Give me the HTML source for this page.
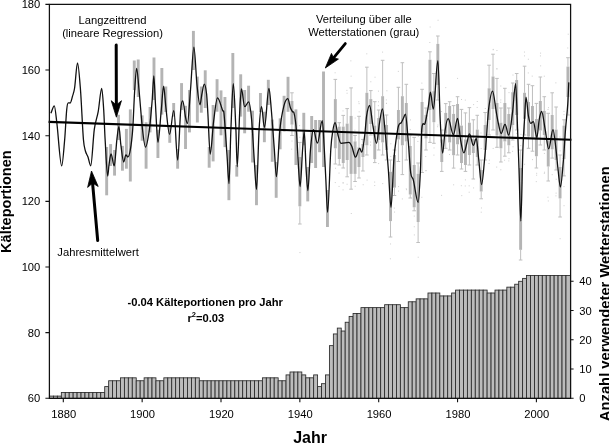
<!DOCTYPE html>
<html lang="de"><head><meta charset="utf-8"><title>Kälteportionen</title><style>html,body{margin:0;padding:0;background:#fff}svg{display:block}</style></head><body>
<svg width="609" height="443" viewBox="0 0 609 443" font-family="'Liberation Sans', Arial, sans-serif">
<rect width="609" height="443" fill="#fff"/>
<g fill="#cfcfcf"><rect x="291.19" y="148.66" width="1" height="1"/><rect x="291.51" y="140.54" width="1" height="1"/><rect x="299.3" y="136.75" width="1" height="1"/><rect x="299.09" y="125.12" width="1" height="1"/><rect x="299.43" y="252.08" width="1" height="1"/><rect x="334.77" y="182.08" width="1" height="1"/><rect x="335.05" y="167.76" width="1" height="1"/><rect x="334.6" y="72.29" width="1" height="1"/><rect x="338.54" y="185.91" width="1" height="1"/><rect x="338.53" y="172.57" width="1" height="1"/><rect x="342.54" y="110.41" width="1" height="1"/><rect x="342.61" y="182.04" width="1" height="1"/><rect x="342.6" y="182.74" width="1" height="1"/><rect x="342.56" y="189.37" width="1" height="1"/><rect x="346.57" y="92.72" width="1" height="1"/><rect x="346.4" y="89.88" width="1" height="1"/><rect x="346.57" y="183.75" width="1" height="1"/><rect x="350.35" y="60.35" width="1" height="1"/><rect x="350.79" y="213.01" width="1" height="1"/><rect x="350.6" y="75.65" width="1" height="1"/><rect x="354.41" y="129.66" width="1" height="1"/><rect x="354.68" y="185.75" width="1" height="1"/><rect x="354.65" y="117.55" width="1" height="1"/><rect x="358.59" y="103.16" width="1" height="1"/><rect x="358.29" y="101.26" width="1" height="1"/><rect x="358.65" y="111.33" width="1" height="1"/><rect x="362.68" y="184.24" width="1" height="1"/><rect x="362.37" y="131.74" width="1" height="1"/><rect x="366.59" y="179.62" width="1" height="1"/><rect x="366.29" y="53.32" width="1" height="1"/><rect x="370.12" y="141.57" width="1" height="1"/><rect x="370.31" y="81.27" width="1" height="1"/><rect x="370.02" y="144.59" width="1" height="1"/><rect x="374.15" y="181.56" width="1" height="1"/><rect x="374.53" y="76.72" width="1" height="1"/><rect x="374.23" y="185.07" width="1" height="1"/><rect x="378.14" y="163.09" width="1" height="1"/><rect x="377.94" y="90.64" width="1" height="1"/><rect x="378" y="101.28" width="1" height="1"/><rect x="377.9" y="105.19" width="1" height="1"/><rect x="382.21" y="183.12" width="1" height="1"/><rect x="382.07" y="51.6" width="1" height="1"/><rect x="386" y="102.82" width="1" height="1"/><rect x="386.38" y="90.28" width="1" height="1"/><rect x="385.84" y="99.4" width="1" height="1"/><rect x="385.94" y="102.93" width="1" height="1"/><rect x="390.3" y="155.92" width="1" height="1"/><rect x="390.05" y="243.46" width="1" height="1"/><rect x="390.31" y="143.3" width="1" height="1"/><rect x="389.88" y="258.3" width="1" height="1"/><rect x="393.8" y="207.6" width="1" height="1"/><rect x="394.05" y="211.57" width="1" height="1"/><rect x="398.12" y="190.59" width="1" height="1"/><rect x="398.06" y="186.09" width="1" height="1"/><rect x="397.83" y="70.86" width="1" height="1"/><rect x="401.84" y="198.43" width="1" height="1"/><rect x="405.77" y="188.33" width="1" height="1"/><rect x="406.07" y="189.18" width="1" height="1"/><rect x="409.72" y="128.95" width="1" height="1"/><rect x="410.03" y="119.43" width="1" height="1"/><rect x="413.77" y="226.25" width="1" height="1"/><rect x="413.78" y="215.59" width="1" height="1"/><rect x="413.83" y="234.42" width="1" height="1"/><rect x="417.71" y="256.72" width="1" height="1"/><rect x="417.76" y="135.85" width="1" height="1"/><rect x="417.38" y="140.92" width="1" height="1"/><rect x="421.36" y="82.62" width="1" height="1"/><rect x="421.36" y="196.78" width="1" height="1"/><rect x="425.42" y="170.25" width="1" height="1"/><rect x="425.22" y="156.04" width="1" height="1"/><rect x="425.53" y="170.04" width="1" height="1"/><rect x="429.65" y="26.51" width="1" height="1"/><rect x="429.33" y="42" width="1" height="1"/><rect x="433.42" y="154.6" width="1" height="1"/><rect x="433.54" y="147.44" width="1" height="1"/><rect x="437.35" y="124.51" width="1" height="1"/><rect x="437.12" y="126.21" width="1" height="1"/><rect x="437.56" y="19.74" width="1" height="1"/><rect x="441.07" y="194.85" width="1" height="1"/><rect x="441.05" y="111.02" width="1" height="1"/><rect x="445.26" y="87.14" width="1" height="1"/><rect x="448.98" y="154.03" width="1" height="1"/><rect x="453.14" y="184.31" width="1" height="1"/><rect x="457.05" y="77.89" width="1" height="1"/><rect x="461" y="98.97" width="1" height="1"/><rect x="460.84" y="185.21" width="1" height="1"/><rect x="461.25" y="195.15" width="1" height="1"/><rect x="464.9" y="179.37" width="1" height="1"/><rect x="464.82" y="99.59" width="1" height="1"/><rect x="464.76" y="185.47" width="1" height="1"/><rect x="468.67" y="191.72" width="1" height="1"/><rect x="468.66" y="185.33" width="1" height="1"/><rect x="473.09" y="187.43" width="1" height="1"/><rect x="473.11" y="104.12" width="1" height="1"/><rect x="476.77" y="101.01" width="1" height="1"/><rect x="476.65" y="106.91" width="1" height="1"/><rect x="480.68" y="148.05" width="1" height="1"/><rect x="480.72" y="211.68" width="1" height="1"/><rect x="480.47" y="132.48" width="1" height="1"/><rect x="480.93" y="207.47" width="1" height="1"/><rect x="484.81" y="108.01" width="1" height="1"/><rect x="488.8" y="159.63" width="1" height="1"/><rect x="488.53" y="163.04" width="1" height="1"/><rect x="492.65" y="147.91" width="1" height="1"/><rect x="492.65" y="49.26" width="1" height="1"/><rect x="492.8" y="48.89" width="1" height="1"/><rect x="496.54" y="68.39" width="1" height="1"/><rect x="496.25" y="68.29" width="1" height="1"/><rect x="496.43" y="50.04" width="1" height="1"/><rect x="496.2" y="166.59" width="1" height="1"/><rect x="500.21" y="101.76" width="1" height="1"/><rect x="500.3" y="99.46" width="1" height="1"/><rect x="500.29" y="85.51" width="1" height="1"/><rect x="500.33" y="169.3" width="1" height="1"/><rect x="504.07" y="159.7" width="1" height="1"/><rect x="508.29" y="160.42" width="1" height="1"/><rect x="508.49" y="158.17" width="1" height="1"/><rect x="508.5" y="92.12" width="1" height="1"/><rect x="512.07" y="150.81" width="1" height="1"/><rect x="512.47" y="74.53" width="1" height="1"/><rect x="512.54" y="146.27" width="1" height="1"/><rect x="516.26" y="132.88" width="1" height="1"/><rect x="520.23" y="145.11" width="1" height="1"/><rect x="520.41" y="133.85" width="1" height="1"/><rect x="524.05" y="55.37" width="1" height="1"/><rect x="523.93" y="51.55" width="1" height="1"/><rect x="524.1" y="163.76" width="1" height="1"/><rect x="527.85" y="58.74" width="1" height="1"/><rect x="527.77" y="72.42" width="1" height="1"/><rect x="531.96" y="159.13" width="1" height="1"/><rect x="531.71" y="75.6" width="1" height="1"/><rect x="535.78" y="181.14" width="1" height="1"/><rect x="536.17" y="172.78" width="1" height="1"/><rect x="536.14" y="174.69" width="1" height="1"/><rect x="540.13" y="65.35" width="1" height="1"/><rect x="539.93" y="55.4" width="1" height="1"/><rect x="540.08" y="52.62" width="1" height="1"/><rect x="543.79" y="75.67" width="1" height="1"/><rect x="543.83" y="172.83" width="1" height="1"/><rect x="543.9" y="152.93" width="1" height="1"/><rect x="544.06" y="171.7" width="1" height="1"/><rect x="547.51" y="109.02" width="1" height="1"/><rect x="547.93" y="107.18" width="1" height="1"/><rect x="547.8" y="200.45" width="1" height="1"/><rect x="547.43" y="196.71" width="1" height="1"/><rect x="551.69" y="174.18" width="1" height="1"/><rect x="555.6" y="192.63" width="1" height="1"/><rect x="555.45" y="195.35" width="1" height="1"/><rect x="555.7" y="178.73" width="1" height="1"/><rect x="555.36" y="82.36" width="1" height="1"/><rect x="559.63" y="150.33" width="1" height="1"/><rect x="559.45" y="136.51" width="1" height="1"/><rect x="559.63" y="238.21" width="1" height="1"/><rect x="559.55" y="139.44" width="1" height="1"/><rect x="563.49" y="110.86" width="1" height="1"/><rect x="563.48" y="186.11" width="1" height="1"/><rect x="563.53" y="205.22" width="1" height="1"/><rect x="563.48" y="114.15" width="1" height="1"/><rect x="567.72" y="33.7" width="1" height="1"/><rect x="567.27" y="47.48" width="1" height="1"/></g>
<path d="M291.96 92.8V101M290.16 92.8H293.76M291.96 124.6V135.5M290.16 135.5H293.76M299.85 142.4V157M298.05 142.4H301.65M299.85 206.3V224M298.05 224H301.65M335.33 79.4V99.1M333.53 79.4H337.13M335.33 148.3V164M333.53 164H337.13M339.27 122.7V126.6M337.47 122.7H341.07M339.27 159V165M337.47 165H341.07M343.22 115.4V126.6M341.42 115.4H345.02M343.22 163V168M341.42 168H345.02M347.16 108.6V123.6M345.36 108.6H348.96M347.16 160V176.8M345.36 176.8H348.96M351.1 87.9V115.9M349.3 87.9H352.9M351.1 173.9V189.2M349.3 189.2H352.9M355.05 135.5V141.4M353.25 135.5H356.85M355.05 173.9V181.5M353.25 181.5H356.85M358.99 116.3V147.3M357.19 116.3H360.79M358.99 167V178M357.19 178H360.79M362.93 139.4V144M361.13 139.4H364.73M362.93 157V171M361.13 171H364.73M366.87 67.2V92.8M365.07 67.2H368.67M366.87 145.3V155M365.07 155H368.67M370.81 90.6V99.1M369.01 90.6H372.62M370.81 124V135M369.01 135H372.62M374.76 101.7V125.6M372.96 101.7H376.56M374.76 159.1V162.6M372.96 162.6H376.56M378.7 110V118M376.9 110H380.5M378.7 140V150M376.9 150H380.5M382.64 60.3V96.2M380.84 60.3H384.44M382.64 142.4V155M380.84 155H384.44M386.58 115V125M384.78 115H388.38M386.58 150V160M384.78 160H388.38M390.53 160V171.8M388.73 160H392.33M390.53 221.1V237M388.73 237H392.33M394.47 150V155M392.67 150H396.27M394.47 187.6V195.5M392.67 195.5H396.27M398.41 87.3V110M396.61 87.3H400.21M398.41 139.4V161.5M396.61 161.5H400.21M402.36 62.7V96.2M400.56 62.7H404.16M402.36 145.3V174.6M400.56 174.6H404.16M406.3 84.3V103M404.5 84.3H408.1M406.3 141.4V160M404.5 160H408.1M410.24 135V146M408.44 135H412.04M410.24 194.5V198M408.44 198H412.04M414.18 137.4V165M412.38 137.4H415.98M414.18 207.3V210.8M412.38 210.8H415.98M418.12 163V173.8M416.32 163H419.93M418.12 222V242.5M416.32 242.5H419.93M422.07 89.3V102M420.27 89.3H423.87M422.07 132.5V172.5M420.27 172.5H423.87M426.01 108V114.9M424.21 108H427.81M426.01 138.4V150M424.21 150H427.81M429.95 51.8V59.7M428.15 51.8H431.75M429.95 110V142.4M428.15 142.4H431.75M433.89 73.5V91.2M432.09 73.5H435.69M433.89 122.2V143.3M432.09 143.3H435.69M437.84 36V43.9M436.04 36H439.64M437.84 85V100M436.04 100H439.64M441.78 130V139.4M439.98 130H443.58M441.78 162V171.4M439.98 171.4H443.58M445.72 103.6V112.9M443.92 103.6H447.52M445.72 133.5V148.3M443.92 148.3H447.52M449.67 101.7V106M447.87 101.7H451.47M449.67 142.4V150M447.87 150H451.47M453.61 105.6V113.9M451.81 105.6H455.41M453.61 155.2V168.1M451.81 168.1H455.41M457.55 96.7V104M455.75 96.7H459.35M457.55 144.3V155M455.75 155H459.35M461.49 109.4V125.6M459.69 109.4H463.29M461.49 163V169M459.69 169H463.29M465.44 112.9V139.4M463.63 112.9H467.24M465.44 165V171.4M463.63 171.4H467.24M469.38 107.6V122.7M467.58 107.6H471.18M469.38 155V165M467.58 165H471.18M473.32 119.8V139M471.52 119.8H475.12M473.32 153V179M471.52 179H475.12M477.26 115.3V129.6M475.46 115.3H479.06M477.26 157V165M475.46 165H479.06M481.2 160V170M479.4 160H483M481.2 191.5V198.8M479.4 198.8H483M485.15 112.5V125M483.35 112.5H486.95M485.15 150V160M483.35 160H486.95M489.09 65.2V88.3M487.29 65.2H490.89M489.09 120V135M487.29 135H490.89M493.03 54.2V76.5M491.23 54.2H494.83M493.03 109V130M491.23 130H494.83M496.98 78.4V103M495.18 78.4H498.78M496.98 135.5V147.3M495.18 147.3H498.78M500.92 108V122.7M499.12 108H502.72M500.92 148.3V162M499.12 162H502.72M504.86 88.3V103M503.06 88.3H506.66M504.86 141.4V156.2M503.06 156.2H506.66M508.8 108V114M507 108H510.6M508.8 145.3V152.8M507 152.8H510.6M512.75 83V92.2M510.94 83H514.54M512.75 125V140M510.94 140H514.54M516.69 73.5V80M514.89 73.5H518.49M516.69 115V130M514.89 130H518.49M520.63 150V168M518.83 150H522.43M520.63 249.8V260M518.83 260H522.43M524.57 66.2V92.8M522.77 66.2H526.37M524.57 118.8V135M522.77 135H526.37M528.51 84.3V102M526.72 84.3H530.31M528.51 136.5V148.3M526.72 148.3H530.31M532.46 85.7V106M530.66 85.7H534.26M532.46 137.4V151.2M530.66 151.2H534.26M536.4 103.4V119M534.6 103.4H538.2M536.4 156.2V168M534.6 168H538.2M540.34 77V101M538.54 77H542.14M540.34 130.5V145M538.54 145H542.14M544.28 96.7V110.9M542.49 96.7H546.08M544.28 135V150M542.49 150H546.08M548.23 113.3V140.4M546.43 113.3H550.03M548.23 166.5V181M546.43 181H550.03M552.17 92.8V115M550.37 92.8H553.97M552.17 149.3V158.1M550.37 158.1H553.97M556.11 107V129.6M554.31 107H557.91M556.11 160V170M554.31 170H557.91M560.05 155V167M558.25 155H561.85M560.05 198.4V217M558.25 217H561.85M564 119.8V125.6M562.2 119.8H565.8M564 159V175.9M562.2 175.9H565.8M567.94 57.7V66.6M566.14 57.7H569.74M567.94 97V115M566.14 115H569.74" stroke="#bfbfbf" stroke-width="1" fill="none"/>
<g fill="#b4b4b4"><rect x="105.22" y="147" width="2.9" height="48.3"/><rect x="109.16" y="144.1" width="2.9" height="21.9"/><rect x="113.1" y="150" width="2.9" height="25.6"/><rect x="117.05" y="114.8" width="2.9" height="25.2"/><rect x="120.99" y="145.9" width="2.9" height="24.8"/><rect x="124.93" y="128.9" width="2.9" height="39.8"/><rect x="128.87" y="109.4" width="2.9" height="72.1"/><rect x="132.81" y="60.5" width="2.9" height="29.5"/><rect x="136.76" y="59.5" width="2.9" height="37.5"/><rect x="140.7" y="115.4" width="2.9" height="25.3"/><rect x="144.64" y="122.3" width="2.9" height="46.4"/><rect x="148.59" y="107" width="2.9" height="25.4"/><rect x="152.53" y="57.5" width="2.9" height="42.5"/><rect x="156.47" y="129.7" width="2.9" height="28.3"/><rect x="160.41" y="68" width="2.9" height="46.6"/><rect x="164.36" y="86.5" width="2.9" height="25.5"/><rect x="168.3" y="125" width="2.9" height="17.8"/><rect x="172.24" y="103" width="2.9" height="13.6"/><rect x="176.18" y="149" width="2.9" height="19.7"/><rect x="180.12" y="83.1" width="2.9" height="26.9"/><rect x="184.07" y="105.8" width="2.9" height="43.2"/><rect x="188.01" y="90" width="2.9" height="42.4"/><rect x="191.95" y="30.9" width="2.9" height="39.1"/><rect x="195.89" y="76.6" width="2.9" height="45.9"/><rect x="199.84" y="86.5" width="2.9" height="26.2"/><rect x="203.78" y="70.3" width="2.9" height="37.7"/><rect x="207.72" y="147" width="2.9" height="20.7"/><rect x="211.67" y="105" width="2.9" height="56.4"/><rect x="215.61" y="79.2" width="2.9" height="32.5"/><rect x="219.55" y="90.4" width="2.9" height="44.9"/><rect x="223.49" y="97" width="2.9" height="50.1"/><rect x="227.44" y="150" width="2.9" height="50.2"/><rect x="231.38" y="53" width="2.9" height="55"/><rect x="235.32" y="165" width="2.9" height="11.6"/><rect x="239.26" y="74.3" width="2.9" height="42.3"/><rect x="243.2" y="90" width="2.9" height="43.3"/><rect x="247.15" y="85.7" width="2.9" height="26"/><rect x="251.09" y="110.7" width="2.9" height="51.8"/><rect x="255.03" y="165" width="2.9" height="40.2"/><rect x="258.98" y="93" width="2.9" height="19"/><rect x="262.92" y="111.7" width="2.9" height="30.5"/><rect x="266.86" y="79.8" width="2.9" height="25.2"/><rect x="270.8" y="119.6" width="2.9" height="42.2"/><rect x="274.75" y="162" width="2.9" height="35.8"/><rect x="278.69" y="118.4" width="2.9" height="30.9"/><rect x="282.63" y="95.8" width="2.9" height="35.7"/><rect x="286.57" y="76.8" width="2.9" height="35"/><rect x="290.51" y="101" width="2.9" height="23.6"/><rect x="294.46" y="109.4" width="2.9" height="55.6"/><rect x="298.4" y="157" width="2.9" height="49.3"/><rect x="302.34" y="112.8" width="2.9" height="32.5"/><rect x="306.29" y="167" width="2.9" height="34.4"/><rect x="310.23" y="116" width="2.9" height="47"/><rect x="314.17" y="120" width="2.9" height="48"/><rect x="318.11" y="120" width="2.9" height="32.2"/><rect x="322.06" y="71.5" width="2.9" height="95.5"/><rect x="326" y="190" width="2.9" height="37"/><rect x="333.88" y="99.1" width="2.9" height="49.2"/><rect x="337.82" y="126.6" width="2.9" height="32.4"/><rect x="341.77" y="126.6" width="2.9" height="36.4"/><rect x="345.71" y="123.6" width="2.9" height="36.4"/><rect x="349.65" y="115.9" width="2.9" height="58"/><rect x="353.6" y="141.4" width="2.9" height="32.5"/><rect x="357.54" y="147.3" width="2.9" height="19.7"/><rect x="361.48" y="144" width="2.9" height="13"/><rect x="365.42" y="92.8" width="2.9" height="52.5"/><rect x="369.37" y="99.1" width="2.9" height="24.9"/><rect x="373.31" y="125.6" width="2.9" height="33.5"/><rect x="377.25" y="118" width="2.9" height="22"/><rect x="381.19" y="96.2" width="2.9" height="46.2"/><rect x="385.13" y="125" width="2.9" height="25"/><rect x="389.08" y="171.8" width="2.9" height="49.3"/><rect x="393.02" y="155" width="2.9" height="32.6"/><rect x="396.96" y="110" width="2.9" height="29.4"/><rect x="400.91" y="96.2" width="2.9" height="49.1"/><rect x="404.85" y="103" width="2.9" height="38.4"/><rect x="408.79" y="146" width="2.9" height="48.5"/><rect x="412.73" y="165" width="2.9" height="42.3"/><rect x="416.68" y="173.8" width="2.9" height="48.2"/><rect x="420.62" y="102" width="2.9" height="30.5"/><rect x="424.56" y="114.9" width="2.9" height="23.5"/><rect x="428.5" y="59.7" width="2.9" height="50.3"/><rect x="432.44" y="91.2" width="2.9" height="31"/><rect x="436.39" y="43.9" width="2.9" height="41.1"/><rect x="440.33" y="139.4" width="2.9" height="22.6"/><rect x="444.27" y="112.9" width="2.9" height="20.6"/><rect x="448.22" y="106" width="2.9" height="36.4"/><rect x="452.16" y="113.9" width="2.9" height="41.3"/><rect x="456.1" y="104" width="2.9" height="40.3"/><rect x="460.04" y="125.6" width="2.9" height="37.4"/><rect x="463.99" y="139.4" width="2.9" height="25.6"/><rect x="467.93" y="122.7" width="2.9" height="32.3"/><rect x="471.87" y="139" width="2.9" height="14"/><rect x="475.81" y="129.6" width="2.9" height="27.4"/><rect x="479.75" y="170" width="2.9" height="21.5"/><rect x="483.7" y="125" width="2.9" height="25"/><rect x="487.64" y="88.3" width="2.9" height="31.7"/><rect x="491.58" y="76.5" width="2.9" height="32.5"/><rect x="495.53" y="103" width="2.9" height="32.5"/><rect x="499.47" y="122.7" width="2.9" height="25.6"/><rect x="503.41" y="103" width="2.9" height="38.4"/><rect x="507.35" y="114" width="2.9" height="31.3"/><rect x="511.3" y="92.2" width="2.9" height="32.8"/><rect x="515.24" y="80" width="2.9" height="35"/><rect x="519.18" y="168" width="2.9" height="81.8"/><rect x="523.12" y="92.8" width="2.9" height="26"/><rect x="527.06" y="102" width="2.9" height="34.5"/><rect x="531.01" y="106" width="2.9" height="31.4"/><rect x="534.95" y="119" width="2.9" height="37.2"/><rect x="538.89" y="101" width="2.9" height="29.5"/><rect x="542.83" y="110.9" width="2.9" height="24.1"/><rect x="546.78" y="140.4" width="2.9" height="26.1"/><rect x="550.72" y="115" width="2.9" height="34.3"/><rect x="554.66" y="129.6" width="2.9" height="30.4"/><rect x="558.6" y="167" width="2.9" height="31.4"/><rect x="562.55" y="125.6" width="2.9" height="33.4"/><rect x="566.49" y="66.6" width="2.9" height="30.4"/></g>
<g fill="#bcbcbc" stroke="#2a2a2a" stroke-width="0.85"><rect x="49.4" y="396.1" width="4.04" height="2.2"/><rect x="53.44" y="396.1" width="3.94" height="2.2"/><rect x="57.39" y="396.1" width="3.94" height="2.2"/><rect x="61.33" y="392.45" width="3.94" height="5.85"/><rect x="65.27" y="392.45" width="3.94" height="5.85"/><rect x="69.21" y="392.45" width="3.94" height="5.85"/><rect x="73.16" y="392.45" width="3.94" height="5.85"/><rect x="77.1" y="392.45" width="3.94" height="5.85"/><rect x="81.04" y="392.45" width="3.94" height="5.85"/><rect x="84.98" y="392.45" width="3.94" height="5.85"/><rect x="88.93" y="392.45" width="3.94" height="5.85"/><rect x="92.87" y="392.45" width="3.94" height="5.85"/><rect x="96.81" y="392.45" width="3.94" height="5.85"/><rect x="100.75" y="392.45" width="3.94" height="5.85"/><rect x="104.7" y="386.6" width="3.94" height="11.7"/><rect x="108.64" y="380.75" width="3.94" height="17.55"/><rect x="112.58" y="380.75" width="3.94" height="17.55"/><rect x="116.52" y="380.75" width="3.94" height="17.55"/><rect x="120.47" y="377.82" width="3.94" height="20.48"/><rect x="124.41" y="377.82" width="3.94" height="20.48"/><rect x="128.35" y="377.82" width="3.94" height="20.48"/><rect x="132.29" y="377.82" width="3.94" height="20.48"/><rect x="136.24" y="380.75" width="3.94" height="17.55"/><rect x="140.18" y="380.75" width="3.94" height="17.55"/><rect x="144.12" y="377.82" width="3.94" height="20.48"/><rect x="148.06" y="377.82" width="3.94" height="20.48"/><rect x="152.01" y="377.82" width="3.94" height="20.48"/><rect x="155.95" y="380.75" width="3.94" height="17.55"/><rect x="159.89" y="380.75" width="3.94" height="17.55"/><rect x="163.83" y="377.82" width="3.94" height="20.48"/><rect x="167.78" y="377.82" width="3.94" height="20.48"/><rect x="171.72" y="377.82" width="3.94" height="20.48"/><rect x="175.66" y="377.82" width="3.94" height="20.48"/><rect x="179.6" y="377.82" width="3.94" height="20.48"/><rect x="183.55" y="377.82" width="3.94" height="20.48"/><rect x="187.49" y="377.82" width="3.94" height="20.48"/><rect x="191.43" y="377.82" width="3.94" height="20.48"/><rect x="195.37" y="377.82" width="3.94" height="20.48"/><rect x="199.32" y="380.75" width="3.94" height="17.55"/><rect x="203.26" y="380.75" width="3.94" height="17.55"/><rect x="207.2" y="380.75" width="3.94" height="17.55"/><rect x="211.14" y="380.75" width="3.94" height="17.55"/><rect x="215.09" y="380.75" width="3.94" height="17.55"/><rect x="219.03" y="380.75" width="3.94" height="17.55"/><rect x="222.97" y="380.75" width="3.94" height="17.55"/><rect x="226.91" y="380.75" width="3.94" height="17.55"/><rect x="230.86" y="380.75" width="3.94" height="17.55"/><rect x="234.8" y="380.75" width="3.94" height="17.55"/><rect x="238.74" y="380.75" width="3.94" height="17.55"/><rect x="242.68" y="380.75" width="3.94" height="17.55"/><rect x="246.63" y="380.75" width="3.94" height="17.55"/><rect x="250.57" y="380.75" width="3.94" height="17.55"/><rect x="254.51" y="380.75" width="3.94" height="17.55"/><rect x="258.45" y="380.75" width="3.94" height="17.55"/><rect x="262.4" y="377.82" width="3.94" height="20.48"/><rect x="266.34" y="377.82" width="3.94" height="20.48"/><rect x="270.28" y="377.82" width="3.94" height="20.48"/><rect x="274.22" y="377.82" width="3.94" height="20.48"/><rect x="278.17" y="380.75" width="3.94" height="17.55"/><rect x="282.11" y="380.75" width="3.94" height="17.55"/><rect x="286.05" y="374.9" width="3.94" height="23.4"/><rect x="289.99" y="371.98" width="3.94" height="26.32"/><rect x="293.94" y="371.98" width="3.94" height="26.32"/><rect x="297.88" y="371.98" width="3.94" height="26.32"/><rect x="301.82" y="374.9" width="3.94" height="23.4"/><rect x="305.76" y="377.82" width="3.94" height="20.48"/><rect x="309.71" y="377.82" width="3.94" height="20.48"/><rect x="313.65" y="374.9" width="3.94" height="23.4"/><rect x="317.59" y="386.6" width="3.94" height="11.7"/><rect x="321.53" y="383.68" width="3.94" height="14.62"/><rect x="325.48" y="374.9" width="3.94" height="23.4"/><rect x="329.42" y="345.65" width="3.94" height="52.65"/><rect x="333.36" y="333.95" width="3.94" height="64.35"/><rect x="337.3" y="328.1" width="3.94" height="70.2"/><rect x="341.25" y="331.03" width="3.94" height="67.27"/><rect x="345.19" y="322.25" width="3.94" height="76.05"/><rect x="349.13" y="316.4" width="3.94" height="81.9"/><rect x="353.07" y="313.48" width="3.94" height="84.82"/><rect x="357.02" y="313.48" width="3.94" height="84.82"/><rect x="360.96" y="307.62" width="3.94" height="90.68"/><rect x="364.9" y="307.62" width="3.94" height="90.68"/><rect x="368.84" y="307.62" width="3.94" height="90.68"/><rect x="372.79" y="307.62" width="3.94" height="90.68"/><rect x="376.73" y="307.62" width="3.94" height="90.68"/><rect x="380.67" y="307.62" width="3.94" height="90.68"/><rect x="384.61" y="304.7" width="3.94" height="93.6"/><rect x="388.56" y="304.7" width="3.94" height="93.6"/><rect x="392.5" y="304.7" width="3.94" height="93.6"/><rect x="396.44" y="304.7" width="3.94" height="93.6"/><rect x="400.38" y="307.62" width="3.94" height="90.68"/><rect x="404.33" y="307.62" width="3.94" height="90.68"/><rect x="408.27" y="301.78" width="3.94" height="96.52"/><rect x="412.21" y="301.78" width="3.94" height="96.52"/><rect x="416.15" y="298.85" width="3.94" height="99.45"/><rect x="420.1" y="298.85" width="3.94" height="99.45"/><rect x="424.04" y="298.85" width="3.94" height="99.45"/><rect x="427.98" y="293" width="3.94" height="105.3"/><rect x="431.92" y="293" width="3.94" height="105.3"/><rect x="435.87" y="293" width="3.94" height="105.3"/><rect x="439.81" y="295.93" width="3.94" height="102.38"/><rect x="443.75" y="295.93" width="3.94" height="102.38"/><rect x="447.69" y="295.93" width="3.94" height="102.38"/><rect x="451.64" y="293" width="3.94" height="105.3"/><rect x="455.58" y="290.08" width="3.94" height="108.22"/><rect x="459.52" y="290.08" width="3.94" height="108.22"/><rect x="463.46" y="290.08" width="3.94" height="108.22"/><rect x="467.41" y="290.08" width="3.94" height="108.22"/><rect x="471.35" y="290.08" width="3.94" height="108.22"/><rect x="475.29" y="290.08" width="3.94" height="108.22"/><rect x="479.23" y="290.08" width="3.94" height="108.22"/><rect x="483.18" y="290.08" width="3.94" height="108.22"/><rect x="487.12" y="293" width="3.94" height="105.3"/><rect x="491.06" y="293" width="3.94" height="105.3"/><rect x="495" y="290.08" width="3.94" height="108.22"/><rect x="498.95" y="290.08" width="3.94" height="108.22"/><rect x="502.89" y="290.08" width="3.94" height="108.22"/><rect x="506.83" y="287.15" width="3.94" height="111.15"/><rect x="510.77" y="287.15" width="3.94" height="111.15"/><rect x="514.72" y="284.23" width="3.94" height="114.07"/><rect x="518.66" y="281.3" width="3.94" height="117"/><rect x="522.6" y="278.38" width="3.94" height="119.93"/><rect x="526.54" y="275.45" width="3.94" height="122.85"/><rect x="530.49" y="275.45" width="3.94" height="122.85"/><rect x="534.43" y="275.45" width="3.94" height="122.85"/><rect x="538.37" y="275.45" width="3.94" height="122.85"/><rect x="542.31" y="275.45" width="3.94" height="122.85"/><rect x="546.26" y="275.45" width="3.94" height="122.85"/><rect x="550.2" y="275.45" width="3.94" height="122.85"/><rect x="554.14" y="275.45" width="3.94" height="122.85"/><rect x="558.08" y="275.45" width="3.94" height="122.85"/><rect x="562.03" y="275.45" width="3.94" height="122.85"/><rect x="565.97" y="275.45" width="4.63" height="122.85"/></g>
<path d="M50.9 113.3C52.03 110.8 53.17 105.8 54.3 105.8C55.13 105.8 55.97 115.73 56.8 122.5C58.43 135.77 60.07 165.9 61.7 165.9C62.7 165.9 63.7 150.54 64.7 139.3C65.37 131.81 66.03 116.46 66.7 109.7C67.23 104.29 67.77 102.8 68.3 102.8C69.02 102.8 69.48 103 70.2 103C71 103 71.8 98.63 72.6 95.9C73.27 93.63 73.93 92.5 74.6 88C75.57 81.47 76.53 62.8 77.5 62.8C78.5 62.8 79.5 77.03 80.5 90C81.47 102.53 82.43 127.27 83.4 139.3C84.07 147.6 84.73 148.43 85.4 151C86.27 154.33 87.13 154.56 88 157C88.9 159.53 89.8 165.9 90.7 165.9C91.9 165.9 93.1 138.07 94.3 129.4C95.6 120.01 96.9 118.9 98.2 111.7C99.37 105.24 100.53 88.4 101.7 88.4C102.37 88.4 103.03 99.72 103.7 109.7C104.17 116.69 104.63 131.57 105.1 139.3C105.97 153.67 106.83 176 107.7 176C108.13 176 108.57 167.79 109 164.9C109.67 160.46 110.33 154 111 154C112.22 154 112.98 165.9 114.2 165.9C115.1 165.9 116 146.84 116.9 139.3C117.57 133.71 118.23 126.5 118.9 126.5C119.57 126.5 120.23 140.27 120.9 145.2C121.83 152.1 122.77 162 123.7 162C124.54 162 125.06 154.8 125.9 154.8C126.62 154.8 127.08 157 127.8 157C128.63 157 129.47 154.69 130.3 150C131.1 145.49 131.9 140.19 132.7 129.4C133.33 120.86 133.97 101.92 134.6 92C135.27 81.56 135.93 68.3 136.6 68.3C137.47 68.3 138.33 83.02 139.2 92C140.3 103.39 141.4 119.78 142.5 129.4C143.5 138.15 144.5 147.1 145.5 147.1C146.8 147.1 148.1 138.54 149.4 129.4C150.33 122.84 151.27 111.37 152.2 100C152.73 93.5 153.27 75.8 153.8 75.8C154.37 75.8 154.93 95.82 155.5 105C156.3 117.96 157.1 142.2 157.9 142.2C159.03 142.2 160.17 120.85 161.3 109.7C162.07 102.15 162.83 86.1 163.6 86.1C164.37 86.1 165.13 101.44 165.9 107.7C167.1 117.5 168.3 134.3 169.5 134.3C171.13 134.3 172.17 110.7 173.8 110.7C175.28 110.7 176.22 160 177.7 160C178.7 160 179.7 121.54 180.7 109.7C181.37 101.81 182.03 100.8 182.7 100.8C183.67 100.8 184.63 112.93 185.6 117.6C186.2 120.5 186.8 123.5 187.4 123.5C188.43 123.5 189.47 102.15 190.5 90C191.63 76.68 192.77 47.1 193.9 47.1C194.93 47.1 195.97 75.23 197 85C198 94.46 199 104.8 200 104.8C200.63 104.8 201.27 97.05 201.9 94C202.7 90.15 203.5 84.1 204.3 84.1C205.07 84.1 205.83 87.63 206.6 94C207.03 97.6 207.47 106.78 207.9 114C208.67 126.78 209.43 154 210.2 154C211.33 154 212.47 130.21 213.6 121.5C214.9 111.51 216.2 97.9 217.5 97.9C219.23 97.9 220.97 106.51 222.7 110.7C223.13 111.75 223.57 109.14 224 113.6C225 123.9 226 141.02 227 155C227.67 164.32 228.33 183.5 229 183.5C229.63 183.5 230.27 144.1 230.9 129.4C231.7 110.83 232.5 83.7 233.3 83.7C234.17 83.7 235.03 110.96 235.9 129.4C236.33 138.62 236.77 166.7 237.2 166.7C238.07 166.7 238.93 125.73 239.8 109.7C240.33 99.83 240.87 89 241.4 89C242.65 89 243.45 106.7 244.7 106.7C246.22 106.7 247.18 101.8 248.7 101.8C249.67 101.8 250.63 109.45 251.6 119.5C252.47 128.51 253.33 146.64 254.2 159C254.97 169.94 255.73 189.4 256.5 189.4C257.37 189.4 258.23 143.73 259.1 129.4C259.9 116.17 260.7 106.7 261.5 106.7C262.6 106.7 263.3 127.4 264.4 127.4C266.15 127.4 267.25 88.4 269 88.4C269.77 88.4 270.53 100.93 271.3 109.7C272.3 121.13 273.3 135.86 274.3 149C275 158.2 275.7 176.7 276.4 176.7C277.57 176.7 278.73 140.61 279.9 129.6C281.23 117.01 282.57 111.12 283.9 105.9C285.2 100.82 286.5 98.7 287.8 98.7C288.7 98.7 289.6 105.54 290.5 108C291.2 109.91 291.9 110.85 292.6 111.8C293.03 112.39 293.47 111.28 293.9 112.6C294.37 114.02 294.83 116.47 295.3 120C295.73 123.27 296.17 126.57 296.6 133C297.27 142.9 297.93 158.79 298.6 169C299.1 176.66 299.6 186.6 300.1 186.6C300.93 186.6 301.77 160.5 302.6 149.3C303.13 142.13 303.67 131.5 304.2 131.5C304.83 131.5 305.47 158.9 306.1 169C306.7 178.57 307.3 190.5 307.9 190.5C308.77 190.5 309.63 158.9 310.5 149.3C311.47 138.6 312.43 129.6 313.4 129.6C314.92 129.6 315.88 143 317.4 143C319.26 143 320.44 120.7 322.3 120.7C322.97 120.7 323.63 138.23 324.3 149.3C324.8 157.6 325.3 169.27 325.8 178.8C326.4 190.24 327 212.2 327.6 212.2C328.67 212.2 329.73 166.18 330.8 149.3C331.43 139.28 332.07 135.42 332.7 131.5C333.5 126.55 334.3 122.7 335.1 122.7C336.1 122.7 337.1 132.01 338.1 135.5C339.07 138.88 340.03 143.3 341 143.3C344 143.3 345.9 142.4 348.9 142.4C349.87 142.4 350.83 144.11 351.8 146.3C353 149.01 354.2 157.1 355.4 157.1C357.03 157.1 358.07 148.3 359.7 148.3C360.46 148.3 360.94 152.2 361.7 152.2C362.7 152.2 363.7 142.93 364.7 135.5C365.33 130.8 365.97 119.68 366.6 115.8C367.6 109.68 368.6 105.5 369.6 105.5C370.7 105.5 371.8 119.57 372.9 125.6C374.1 132.17 375.3 143.3 376.5 143.3C377.47 143.3 378.43 129.24 379.4 123.6C380.4 117.77 381.4 108.9 382.4 108.9C383.37 108.9 384.33 123.65 385.3 133.5C386.3 143.69 387.3 156.05 388.3 169C389.2 180.65 390.1 207.3 391 207.3C391.97 207.3 392.93 171.46 393.9 159.1C394.77 148.02 395.63 143.2 396.5 137C397.2 132 397.9 127.6 398.6 125.5C399.5 122.8 400.4 123.98 401.3 122.6C402.03 121.48 402.77 119.5 403.5 118C404.13 116.7 404.77 114.2 405.4 114.2C406.3 114.2 407.2 129.43 408.1 139.4C408.97 149 409.83 166.17 410.7 172.9C411.57 179.63 412.43 176.39 413.3 179.8C414.93 186.22 416.57 202.4 418.2 202.4C418.97 202.4 419.73 184.95 420.5 169C420.9 160.68 421.3 133.58 421.7 129.6C422.83 118.32 423.97 127.21 425.1 123.2C426.2 119.31 427.3 112.33 428.4 105.9C429.07 102 429.73 92.2 430.4 92.2C431.5 92.2 432.2 109 433.3 109C435.05 109 436.15 60.7 437.9 60.7C438.67 60.7 439.43 104.61 440.2 119.7C441 135.44 441.8 153.2 442.6 153.2C443.47 153.2 444.33 135.04 445.2 129.6C446.17 123.54 447.13 118.7 448.1 118.7C450.11 118.7 451.39 134.5 453.4 134.5C455 134.5 456 118.3 457.6 118.3C458.57 118.3 459.53 134.11 460.5 139.4C461.63 145.61 462.77 152.8 463.9 152.8C464.87 152.8 465.83 146.62 466.8 143.3C467.67 140.32 468.53 133.9 469.4 133.9C470.92 133.9 471.88 145.3 473.4 145.3C474.5 145.3 475.2 138.4 476.3 138.4C477.1 138.4 477.9 152.11 478.7 159.1C479.67 167.54 480.63 184.7 481.6 184.7C482.6 184.7 483.6 168.94 484.6 159.1C485.27 152.54 485.93 143.91 486.6 135.5C487.23 127.51 487.87 114.66 488.5 109.9C489.83 99.89 491.17 91.2 492.5 91.2C493.87 91.2 495.23 106.49 496.6 114C497.2 117.29 497.8 121.06 498.4 123.6C499.33 127.56 500.27 133.5 501.2 133.5C502.64 133.5 503.56 124.3 505 124.3C506.41 124.3 507.29 135.1 508.7 135.1C510 135.1 511.3 121.48 512.6 111.8C513.6 104.35 514.6 83.7 515.6 83.7C516.27 83.7 516.93 112.87 517.6 129.6C518.07 141.31 518.53 155.67 519 169C519.6 186.14 520.2 221 520.8 221C521.5 221 522.2 168.46 522.9 149.3C523.43 134.7 523.97 128.68 524.5 119.7C525 111.28 525.5 97.1 526 97.1C526.8 97.1 527.6 111.43 528.4 115.8C529.2 120.17 530 123.3 530.8 123.3C531.75 123.3 532.35 121.7 533.3 121.7C534.67 121.7 535.53 137.4 536.9 137.4C537.67 137.4 538.43 123.92 539.2 119.7C540 115.29 540.8 111.5 541.6 111.5C542.8 111.5 544 123.28 545.2 129.6C546.37 135.75 547.53 148.9 548.7 148.9C550.33 148.9 551.37 129.6 553 129.6C554 129.6 555 141.42 556 149.3C556.67 154.55 557.33 163.29 558 169C558.8 175.85 559.6 187 560.4 187C561.43 187 562.47 170.73 563.5 159.1C564.17 151.6 564.83 138.16 565.5 129.6C566.27 119.76 567.03 114.87 567.8 103.9C568.13 99.13 568.47 89.57 568.8 82.4" fill="none" stroke="#111" stroke-width="1.3" stroke-linejoin="round"/>
<line x1="48.6" y1="121.9" x2="571.4" y2="139.8" stroke="#000" stroke-width="2.1"/>
<path d="M49.4 4.4V398.3H570.6V4.4Z" fill="none" stroke="#111" stroke-width="1.25"/>
<path d="M45.4 398.3H49.4M45.4 332.65H49.4M45.4 267H49.4M45.4 201.35H49.4M45.4 135.7H49.4M45.4 70.05H49.4M45.4 4.4H49.4M570.6 398.3H573.6M570.6 369.05H573.6M570.6 339.8H573.6M570.6 310.55H573.6M570.6 281.3H573.6M63.3 398.3V402.3M142.15 398.3V402.3M221 398.3V402.3M299.85 398.3V402.3M378.7 398.3V402.3M457.55 398.3V402.3M536.4 398.3V402.3" stroke="#111" stroke-width="1.1" fill="none"/>
<g font-size="11.2" fill="#000">
<text x="40.3" y="402.3" text-anchor="end">60</text>
<text x="40.3" y="336.65" text-anchor="end">80</text>
<text x="40.3" y="271" text-anchor="end">100</text>
<text x="40.3" y="205.35" text-anchor="end">120</text>
<text x="40.3" y="139.7" text-anchor="end">140</text>
<text x="40.3" y="74.05" text-anchor="end">160</text>
<text x="40.3" y="8.4" text-anchor="end">180</text>
<text x="579.3" y="402.3">0</text>
<text x="579.3" y="373.05">10</text>
<text x="579.3" y="343.8">20</text>
<text x="579.3" y="314.55">30</text>
<text x="579.3" y="285.3">40</text>
<text x="63.7" y="417.9" text-anchor="middle">1880</text>
<text x="142.55" y="417.9" text-anchor="middle">1900</text>
<text x="221.4" y="417.9" text-anchor="middle">1920</text>
<text x="300.25" y="417.9" text-anchor="middle">1940</text>
<text x="379.1" y="417.9" text-anchor="middle">1960</text>
<text x="457.95" y="417.9" text-anchor="middle">1980</text>
<text x="536.8" y="417.9" text-anchor="middle">2000</text>
</g>
<g font-size="11.2" fill="#000" text-anchor="middle">
<text x="112.5" y="23.9">Langzeittrend</text><text x="112.5" y="36.5">(lineare Regression)</text>
<text x="363.8" y="22.9">Verteilung über alle</text><text x="363.8" y="35.6">Wetterstationen (grau)</text>
<text x="98.1" y="256.3">Jahresmittelwert</text>
</g>
<g font-size="11.2" font-weight="bold" fill="#000" text-anchor="middle">
<text x="205.2" y="306.2">-0.04 Kälteportionen pro Jahr</text>
<text x="205.8" y="321.5">r<tspan font-size="7.5" dy="-4.5">2</tspan><tspan dy="4.5">=0.03</tspan></text>
</g>
<g font-weight="bold" fill="#000">
<text x="310.1" y="442.5" font-size="16" text-anchor="middle">Jahr</text>
<text transform="translate(10.9 201.6) rotate(-90)" font-size="14.55" text-anchor="middle">Kälteportionen</text>
<text transform="translate(609.7 293.7) rotate(-90)" font-size="14.77" text-anchor="middle">Anzahl verwendeter Wetterstationen</text>
</g>
<line x1="116.2" y1="45" x2="116.37" y2="104.99" stroke="#000" stroke-width="3" stroke-linecap="round"/><path d="M116.4 117.2L111.25 100.71L116.37 104.99L121.45 100.69Z" fill="#000" stroke="#000" stroke-width="0.8" stroke-linejoin="round"/>
<line x1="345.3" y1="43.6" x2="333.59" y2="57.89" stroke="#000" stroke-width="2.8" stroke-linecap="round"/><path d="M325.3 68L331.46 53.39L333.59 57.89L338.42 59.1Z" fill="#000" stroke="#000" stroke-width="0.8" stroke-linejoin="round"/>
<line x1="97.7" y1="240.5" x2="92.58" y2="183.11" stroke="#000" stroke-width="3" stroke-linecap="round"/><path d="M91.5 171L98.2 186.47L92.58 183.11L87.64 187.41Z" fill="#000" stroke="#000" stroke-width="0.8" stroke-linejoin="round"/>
</svg>
</body></html>
